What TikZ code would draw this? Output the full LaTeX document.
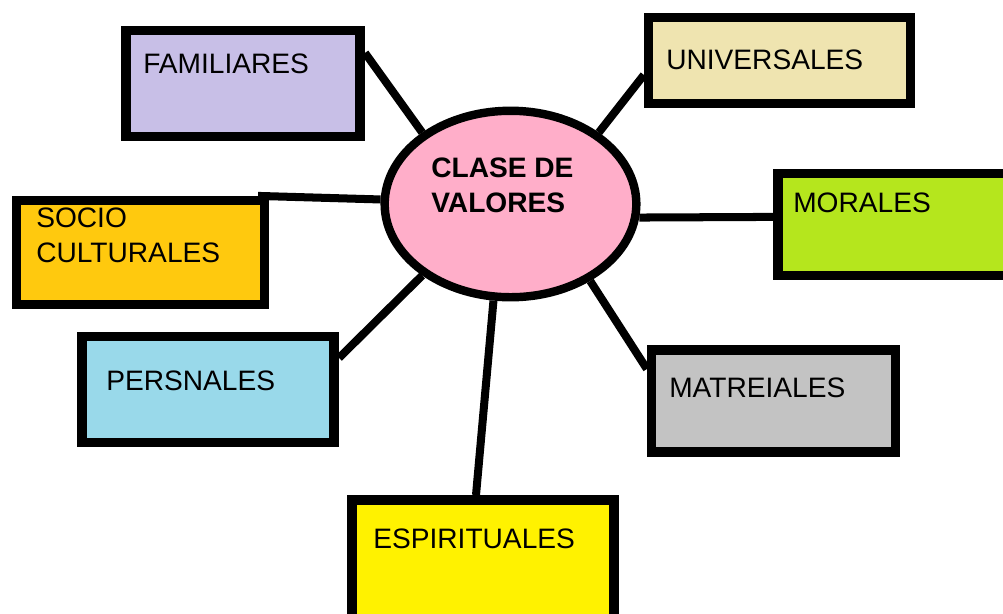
\documentclass[tikz,border=0pt]{standalone}
\usepackage{fontspec}
\setmainfont{Liberation Sans}
\usetikzlibrary{calc, shapes.geometric}
\definecolor{lila}{HTML}{C8BFE7}
\definecolor{crema}{HTML}{EFE4B0}
\definecolor{naranja}{HTML}{FFC90E}
\definecolor{lima}{HTML}{B5E61D}
\definecolor{celeste}{HTML}{99D9EA}
\definecolor{gris}{HTML}{C3C3C3}
\definecolor{amarillo}{HTML}{FFF200}
\definecolor{rosa}{HTML}{FFAEC9}

\begin{document}
\begin{tikzpicture}[x=0.025cm, y=-0.025cm,
        caja/.style={draw, rectangle, line width=6.8pt, inner sep=0pt},
        rotulo/.style={anchor=base west, inner sep=0pt, align=left,
            font=\fontsize{20}{24.5}\selectfont},
        enlace/.style={line width=5.7pt}]
        \useasboundingbox (0,0) rectangle (1003,613);
        \clip (0,0) rectangle (1003,613);
        \fill[white] (0,0) rectangle (1003,613);

        \node[caja, fill=lila, minimum width=5.86cm, minimum height=2.64cm] (fam) at (243,83.5) {};
        \node[caja, fill=crema, minimum width=6.54cm, minimum height=2.14cm] (univ) at (779.5,60.5) {};
        \node[caja, fill=naranja, minimum width=6.19cm, minimum height=2.59cm] (soc) at (140.5,252.5) {};
        \node[caja, fill=lima, minimum width=6.31cm, minimum height=2.54cm] (mor) at (904,224.5) {};
        \node[caja, fill=celeste, minimum width=6.31cm, minimum height=2.64cm] (pers) at (208,389.5) {};
        \node[caja, fill=gris, minimum width=6.09cm, minimum height=2.56cm] (mat) at (773.5,401) {};
        \node[caja, fill=amarillo, minimum width=6.56cm, minimum height=3.01cm] (esp) at (483,560) {};
        \node[draw, ellipse, fill=rosa, line width=6pt, inner sep=0pt,
            minimum width=6.29cm, minimum height=4.66cm] (cv) at (510.5,204) {};

        \node[rotulo] (famT) at (143,73) {FAMILIARES};
        \node[rotulo] (univT) at (666,69) {UNIVERSALES};
        \node[rotulo] (socT) at (36,262) {SOCIO\\CULTURALES};
        \node[rotulo] (morT) at (793,212) {MORALES};
        \node[rotulo] (persT) at (106,390) {PERSNALES};
        \node[rotulo] (matT) at (669,397) {MATREIALES};
        \node[rotulo] (espT) at (373,548) {ESPIRITUALES};
        \node[rotulo, font=\fontsize{20}{24.5}\selectfont\bfseries] (cvT) at (431,212) {CLASE DE\\VALORES};

        \draw[enlace] ($(fam.north east)+(0,27)$) -- (cv.141);
        \draw[enlace] ($(univ.north west)+(0,62)$) -- (cv.39);
        \draw[enlace] ($(soc.north east)+(-11,0)$) -- (cv.178);
        \draw[enlace] (cv.-6) -- ($(mor.north west)+(0,48)$);
        \draw[enlace] ($(pers.north east)+(0,26)$) -- (cv.219);
        \draw[enlace] (cv.316) -- ($(mat.north west)+(0,24)$);
        \draw[enlace] (cv.260) -- ($(esp.north)+(-7,0)$);
    \end{tikzpicture}
\end{document}
